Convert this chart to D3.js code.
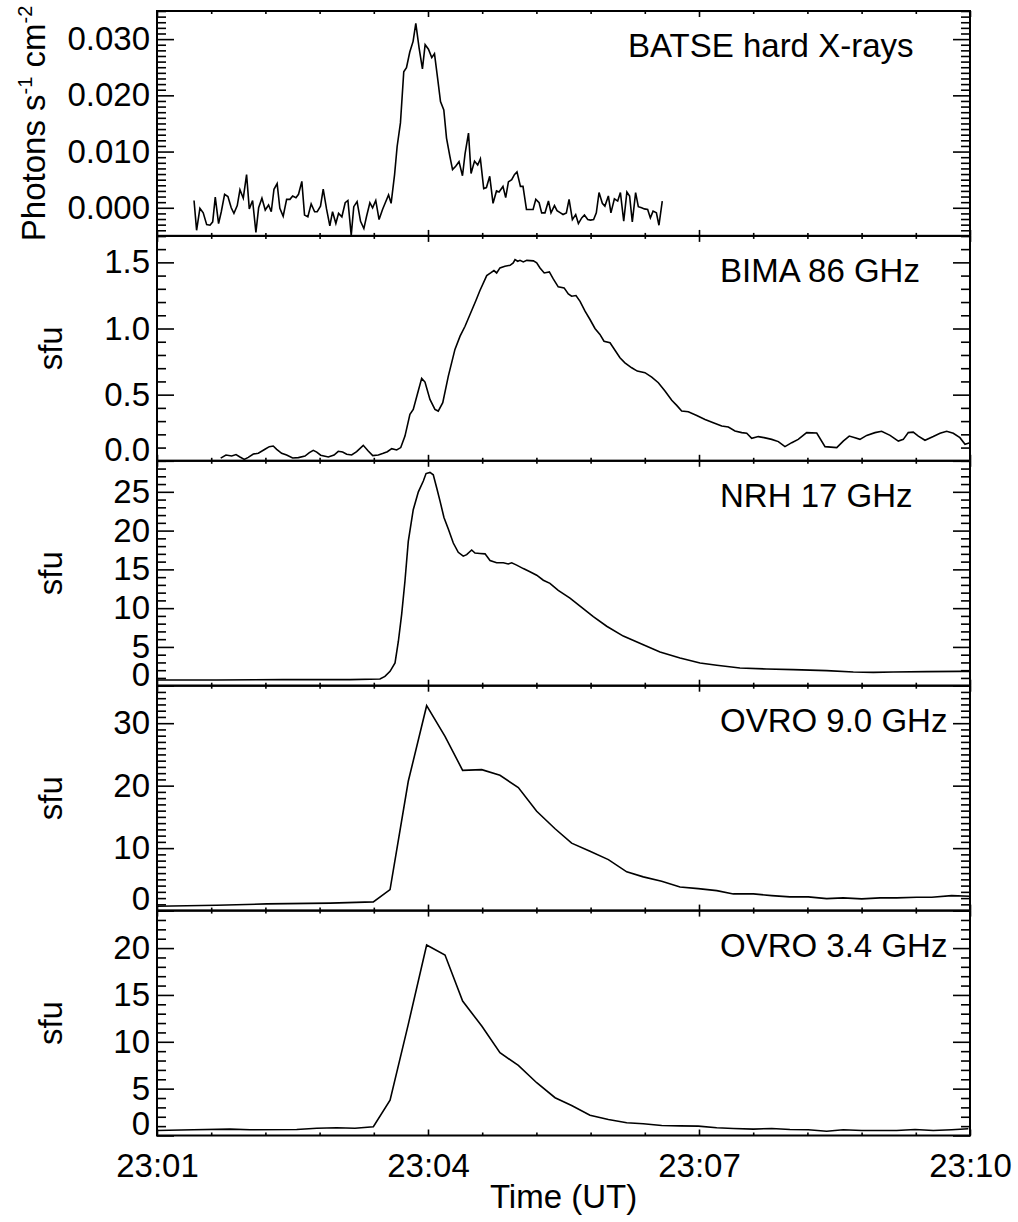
<!DOCTYPE html>
<html>
<head>
<meta charset="utf-8">
<script src="https://cdn.jsdelivr.net/npm/d3@7/dist/d3.min.js"></script>
<style>
  html,body{margin:0;padding:0;background:#fff;}
  svg text{font-family:"Liberation Sans",Arial,Helvetica,sans-serif;fill:#000;}
</style>
</head>
<body>
<svg id="chart" width="1018" height="1222"></svg>
<script>
// ---------------- DATA (time in seconds after 23:01:00 UT) ----------------
const batseTime = [24.6,26.3,28.5,30.7,33.0,35.2,37.0,38.7,40.9,42.7,
44.9,47.1,49.3,51.1,53.3,55.1,57.3,59.5,61.3,63.5,
65.7,67.5,69.7,71.9,74.1,75.9,77.7,79.8,81.6,83.8,
86.1,88.3,90.1,92.3,94.0,96.2,98.0,100.2,102.4,104.7,
106.4,108.6,110.4,112.6,114.8,116.6,118.8,120.6,122.8,125.0,
126.8,129.0,130.7,132.9,135.2,137.4,139.2,141.4,143.2,145.3,
147.5,149.8,151.5,153.8,155.5,157.8,159.5,161.7,163.9,165.7,
167.9,170.1,171.9,174.1,176.3,178.1,180.3,182.5,184.3,186.5,
188.3,190.5,192.3,194.5,196.3,198.4,200.6,202.9,204.6,206.9,
208.6,210.9,213.0,214.8,217.0,218.8,221.0,223.2,225.5,227.2,
229.8,231.6,233.4,235.6,237.4,239.1,241.4,243.1,245.4,247.6,
249.8,251.6,253.8,255.5,257.7,260.0,261.7,264.0,265.7,268.0,
269.7,271.9,273.7,275.9,278.1,279.9,282.1,283.9,286.1,287.9,
290.0,291.8,293.6,295.8,297.5,299.8,301.5,303.8,306.0,307.8,
310.0,312.1,313.9,315.7,317.9,319.7,321.9,323.7,325.9,327.7,
329.5,331.7,333.4,335.6];
const batseFlux = [0.0013,-0.0040,-0.0001,-0.0009,-0.0030,-0.0031,-0.0025,0.0019,-0.0028,-0.0007,
0.0024,0.0020,0.0000,-0.0010,0.0004,0.0032,0.0017,0.0059,-0.0002,0.0013,
-0.0044,0.0000,0.0017,-0.0004,0.0005,-0.0007,0.0033,0.0043,-0.0001,-0.0015,
0.0015,0.0015,0.0021,0.0018,0.0024,0.0047,-0.0013,-0.0016,0.0007,-0.0007,
-0.0007,0.0003,0.0033,-0.0002,-0.0032,-0.0007,-0.0028,-0.0010,-0.0016,0.0009,
0.0013,-0.0049,0.0002,0.0011,-0.0024,-0.0037,-0.0015,0.0009,0.0000,0.0013,
-0.0021,-0.0003,0.0008,0.0023,0.0008,0.0059,0.0109,0.0151,0.0242,0.0249,
0.0277,0.0296,0.0328,0.0284,0.0247,0.0290,0.0282,0.0267,0.0274,0.0228,
0.0189,0.0174,0.0124,0.0092,0.0068,0.0074,0.0082,0.0057,0.0096,0.0133,
0.0061,0.0083,0.0076,0.0087,0.0034,0.0036,0.0056,0.0008,0.0030,0.0028,
0.0038,0.0018,0.0046,0.0050,0.0059,0.0064,0.0038,0.0038,-0.0003,-0.0003,
-0.0003,0.0015,0.0009,-0.0009,-0.0009,0.0012,-0.0009,0.0004,-0.0005,-0.0009,
-0.0012,-0.0009,0.0015,-0.0021,-0.0012,-0.0028,-0.0018,-0.0013,-0.0021,-0.0022,
-0.0021,-0.0009,0.0027,0.0008,0.0003,0.0021,-0.0009,0.0016,0.0012,0.0027,
-0.0024,0.0028,0.0021,-0.0025,0.0027,0.0002,0.0000,-0.0002,-0.0003,-0.0018,
-0.0006,-0.0009,-0.0031,0.0012];

const bimaTime = [42.3,45.8,49.6,52.5,55.1,58.0,60.6,64.0,67.3,71.7,
74.6,77.2,79.5,82.8,86.1,90.1,93.9,98.3,101.2,103.8,
106.1,108.7,113.8,117.6,120.4,123.3,126.0,129.3,132.6,137.0,
140.3,143.3,147.0,150.3,153.0,155.9,159.2,161.9,164.7,168.0,
170.2,173.2,175.8,178.0,181.3,184.6,186.8,189.8,193.5,197.9,
201.3,204.6,207.9,211.9,214.5,219.0,221.6,223.8,225.6,227.8,
231.1,234.5,236.6,237.8,239.6,241.1,243.3,245.6,250.0,252.2,
254.4,257.2,260.6,263.2,266.5,270.4,273.2,275.4,278.3,281.0,
284.3,287.6,290.9,294.2,296.9,300.9,304.2,307.5,310.8,315.3,
319.0,324.1,328.6,333.0,337.4,341.9,345.2,348.5,352.9,358.5,
364.0,369.5,375.1,379.5,383.9,388.4,391.7,395.0,399.4,403.2,
408.3,412.7,417.1,421.6,425.9,431.5,438.2,443.7,451.5,455.8,
459.8,463.6,466.9,471.4,476.9,481.3,486.9,492.4,495.7,499.0,
502.3,505.7,510.1,515.6,520.1,524.5,528.9,533.3,536.7,540.0];
const bimaFlux = [0.020,0.044,0.036,0.047,0.029,0.011,0.026,0.051,0.057,0.087,
0.107,0.112,0.087,0.057,0.044,0.021,0.024,0.036,0.062,0.079,
0.066,0.042,0.029,0.044,0.072,0.066,0.049,0.044,0.069,0.117,
0.074,0.039,0.044,0.057,0.069,0.092,0.082,0.100,0.187,0.351,
0.389,0.515,0.623,0.595,0.464,0.389,0.376,0.439,0.640,0.842,
0.942,1.017,1.106,1.214,1.287,1.400,1.420,1.438,1.420,1.458,
1.470,1.478,1.496,1.521,1.508,1.515,1.503,1.515,1.511,1.496,
1.458,1.420,1.428,1.375,1.315,1.307,1.262,1.244,1.249,1.205,
1.131,1.068,1.000,0.955,0.904,0.892,0.836,0.779,0.741,0.703,
0.678,0.666,0.632,0.590,0.527,0.457,0.419,0.376,0.371,0.343,
0.313,0.288,0.263,0.255,0.225,0.213,0.208,0.170,0.183,0.175,
0.162,0.145,0.107,0.137,0.162,0.213,0.210,0.107,0.100,0.149,
0.187,0.175,0.162,0.192,0.213,0.223,0.192,0.149,0.162,0.213,
0.217,0.187,0.155,0.183,0.208,0.223,0.208,0.175,0.125,0.137];

const nrhTime = [0.0,39.7,83.9,128.2,148.1,151.4,154.8,158.1,160.3,162.5,
164.7,166.9,170.2,173.6,176.9,178.7,181.3,183.5,185.8,188.0,
190.6,193.5,196.8,200.1,203.4,205.7,209.0,211.2,214.5,217.9,
221.2,225.6,230.0,233.3,235.6,238.9,243.3,247.7,252.2,256.6,
261.0,266.5,274.3,281.0,289.8,298.7,309.7,325.3,334.1,347.4,
360.7,371.8,387.2,405.0,422.6,444.8,462.5,475.8,489.0,511.2,
533.3,540.0];
const nrhFlux = [0.74,0.74,0.78,0.78,0.86,1.2,1.85,2.93,5.7,9.2,
13.5,18.6,22.7,25.0,26.4,27.35,27.5,27.2,25.5,23.8,
21.7,20.2,18.4,17.2,16.7,16.9,17.5,17.1,17.05,17.0,
16.15,15.85,15.85,15.7,15.85,15.55,15.1,14.7,14.25,13.6,
13.2,12.3,11.3,10.25,8.9,7.67,6.4,5.08,4.35,3.57,
2.93,2.63,2.28,2.15,2.07,1.94,1.77,1.72,1.77,1.81,
1.85,1.85];

const ovro9Time = [0.0,39.7,73.0,115.0,143.7,154.8,166.9,179.1,191.3,203.0,
215.7,227.8,240.0,252.2,264.4,275.4,287.6,299.8,312.0,323.0,
335.2,347.4,359.5,371.8,382.8,396.1,408.3,420.4,432.6,444.8,
455.8,468.1,480.2,491.3,504.6,514.6,527.8,540.0];
const ovro9Flux = [0.69,0.85,1.07,1.2,1.39,3.36,20.7,32.8,27.9,22.45,
22.56,21.65,19.7,15.9,13.1,10.8,9.5,8.16,6.2,5.4,
4.7,3.79,3.52,3.2,2.67,2.67,2.4,2.19,2.19,1.92,
2.03,1.87,2.03,2.03,2.13,2.13,2.4,2.29];

const ovro34Time = [0.0,24.1,48.5,61.8,92.8,106.1,119.4,131.5,143.7,154.8,
166.9,179.1,191.3,203.0,215.7,227.8,240.0,252.2,264.4,275.4,
287.6,299.8,312.0,323.0,335.2,347.4,359.5,371.8,382.8,396.1,
408.3,420.4,432.6,444.8,455.8,468.1,480.2,491.3,503.5,515.6,
527.8,538.9];
const ovro34Flux = [0.53,0.61,0.68,0.61,0.64,0.78,0.82,0.78,0.93,3.77,
11.86,20.33,19.26,14.35,11.68,8.83,7.48,5.63,4.03,3.2,
2.17,1.71,1.36,1.25,1.07,1.03,1.0,0.82,0.75,0.68,
0.75,0.64,0.61,0.46,0.61,0.53,0.53,0.53,0.64,0.53,
0.61,0.72];

const panelTitles = ["BATSE hard X-rays","BIMA 86 GHz","NRH 17 GHz","OVRO 9.0 GHz","OVRO 3.4 GHz"];
const yAxisTitles = ["Photons","sfu","sfu","sfu","sfu"];
const yDomains = [[-0.005,0.035],[0,1.7],[0,29],[0,36],[0,24]];
const yMajorTicks = [[0,0.01,0.02,0.03],[0,0.5,1.0,1.5],[0,5,10,15,20,25],[0,10,20,30],[0,5,10,15,20]];
const yMinorSteps = [0.001,0.1,1,1,1];
const yTickFormats = [".3f",".1f","d","d","d"];
const timeDomain = [0,540];
const timeTickValues = [0,180,360,540];
const timeTickLabels = ["23:01","23:04","23:07","23:10"];
const timeMinorStep = 36;
const xAxisTitle = "Time (UT)";

const seriesTimes = [batseTime,bimaTime,nrhTime,ovro9Time,ovro34Time];
const seriesFlux = [batseFlux,bimaFlux,nrhFlux,ovro9Flux,ovro34Flux];

// ---------------- LAYOUT ----------------
const L = 157, R = 970, TOP = 11, PH = 224.9;
const FS = 33;
const titleX = [628,720,720,720,720];

const svg = d3.select("#chart");
svg.append("rect").attr("width",1018).attr("height",1222).attr("fill","#fff");
const x = d3.scaleLinear().domain(timeDomain).range([L,R]);

function minorValues(dom, step, majors){
  const n = Math.round((dom[1]-dom[0])/step);
  return d3.range(n+1).map(k=>dom[0]+k*step)
    .filter(v=>!majors.some(m=>Math.abs(m-v)<step*1e-3));
}
function styleAxis(g, sw){
  g.select(".domain").remove();
  g.selectAll(".tick line").attr("stroke","#000").attr("stroke-width",sw);
  g.selectAll(".tick text").attr("font-size",FS).attr("fill","#000")
    .attr("font-family",'"Liberation Sans",Arial,Helvetica,sans-serif');
}

const xMinor = minorValues(timeDomain,timeMinorStep,timeTickValues);

seriesTimes.forEach((times,i)=>{
  const y0 = TOP + i*PH, y1 = y0 + PH;
  const y = d3.scaleLinear().domain(yDomains[i]).range([y1,y0]);
  const g = svg.append("g");

  // clip
  const cid = "clip"+i;
  svg.append("defs").append("clipPath").attr("id",cid)
    .append("rect").attr("x",L).attr("y",y0).attr("width",R-L).attr("height",PH);

  // data line
  const pts = d3.range(Math.min(times.length, seriesFlux[i].length)).map(k=>[times[k],seriesFlux[i][k]]);
  const line = d3.line().x(d=>x(d[0])).y(d=>y(d[1]));
  g.append("path").datum(pts).attr("clip-path","url(#"+cid+")")
    .attr("d",line).attr("fill","none").attr("stroke","#000").attr("stroke-width",1.6)
    .attr("stroke-linejoin","miter");

  // y axes (left labeled, right unlabeled) - inward ticks
  const yMin = minorValues(yDomains[i],yMinorSteps[i],yMajorTicks[i]);
  const fmt = d3.format(yTickFormats[i]);
  const gl = g.append("g").attr("transform","translate("+L+",0)")
    .call(d3.axisLeft(y).tickValues(yMajorTicks[i]).tickFormat(fmt).tickSize(-17).tickSizeOuter(0).tickPadding(7));
  styleAxis(gl,1.6);
  gl.selectAll(".tick text").filter(d=>Math.abs(d-yDomains[i][0])<1e-9).attr("dy","-0.02em");
  const glm = g.append("g").attr("transform","translate("+L+",0)")
    .call(d3.axisLeft(y).tickValues(yMin).tickFormat("").tickSize(-9).tickSizeOuter(0));
  styleAxis(glm,1.6);
  const gr = g.append("g").attr("transform","translate("+R+",0)")
    .call(d3.axisRight(y).tickValues(yMajorTicks[i]).tickFormat("").tickSize(-17).tickSizeOuter(0));
  styleAxis(gr,1.6);
  const grm = g.append("g").attr("transform","translate("+R+",0)")
    .call(d3.axisRight(y).tickValues(yMin).tickFormat("").tickSize(-9).tickSizeOuter(0));
  styleAxis(grm,1.6);

  // x axes, inward
  const gt = g.append("g").attr("transform","translate(0,"+y0+")")
    .call(d3.axisTop(x).tickValues(timeTickValues).tickFormat("").tickSize(-6).tickSizeOuter(0));
  styleAxis(gt,1.6);
  const gtm = g.append("g").attr("transform","translate(0,"+y0+")")
    .call(d3.axisTop(x).tickValues(xMinor).tickFormat("").tickSize(-3).tickSizeOuter(0));
  styleAxis(gtm,1.6);
  const last = i === seriesTimes.length-1;
  const gb = g.append("g").attr("transform","translate(0,"+y1+")")
    .call(d3.axisBottom(x).tickValues(timeTickValues)
      .tickFormat(last ? (d,k)=>timeTickLabels[k] : "").tickSize(-6).tickSizeOuter(0).tickPadding(16));
  styleAxis(gb,1.6);
  if(last){ gb.selectAll(".tick text").attr("dy",null).attr("y",null)
      .attr("transform","translate(0,41)"); }
  const gbm = g.append("g").attr("transform","translate(0,"+y1+")")
    .call(d3.axisBottom(x).tickValues(xMinor).tickFormat("").tickSize(-3).tickSizeOuter(0));
  styleAxis(gbm,1.6);

  // frame
  g.append("rect").attr("x",L).attr("y",y0).attr("width",R-L).attr("height",PH)
    .attr("fill","none").attr("stroke","#000").attr("stroke-width",2);

  // panel title
  g.append("text").attr("x",titleX[i]).attr("y",y0+46).attr("font-size",FS).text(panelTitles[i]);

  // y axis title
  const cy = (y0+y1)/2;
  if(i===0){
    const t = g.append("text").attr("transform","translate(45,"+cy+") rotate(-90)")
      .attr("text-anchor","middle").attr("font-size",FS);
    t.append("tspan").text(yAxisTitles[i]+" s");
    t.append("tspan").attr("font-size",20).attr("dy",-13).text("-1");
    t.append("tspan").attr("dy",13).text(" cm");
    t.append("tspan").attr("font-size",20).attr("dy",-13).text("-2");
  } else {
    g.append("text").attr("transform","translate(62,"+cy+") rotate(-90)")
      .attr("text-anchor","middle").attr("font-size",FS).text(yAxisTitles[i]);
  }
});

svg.append("text").attr("x",(L+R)/2).attr("y",1208).attr("text-anchor","middle")
  .attr("font-size",FS).text(xAxisTitle);
</script>
</body>
</html>
